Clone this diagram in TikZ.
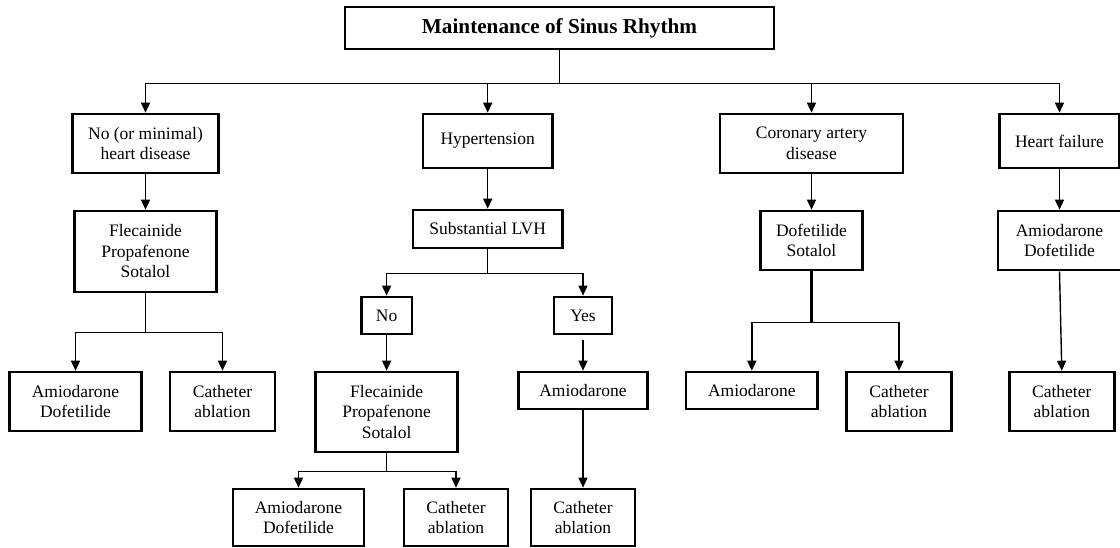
\documentclass[tikz,border=0pt]{standalone}
\usepackage{fontspec}
\setmainfont{Liberation Serif}
\usetikzlibrary{arrows.meta}
\begin{document}
\begin{tikzpicture}[x=1pt,y=-1pt,
  box/.style={draw, line width=2.6pt, align=center, inner sep=0pt, font=\fontsize{17.5}{20.5}\selectfont},
  wh/.style 2 args={minimum width=#1pt, minimum height=#2pt},
  conn/.style={line width=1.4pt},
  arr/.style={conn, -{Triangle[length=10pt,width=9pt]}},
  thickconn/.style={line width=2.8pt}
]
\useasboundingbox (0,0) rectangle (1120,548);
% title
\node[box, wh={429}{42}, font=\bfseries\fontsize{21.2}{24}\selectfont] (title) at (559.5,28) {Maintenance of Sinus Rhythm};
% column 1
\node[box, wh={146}{59}] (n1) at (145.5,143.5) {No (or minimal)\\heart disease};
\node[box, wh={142}{81}] (n2) at (145.5,251.5) {Flecainide\\Propafenone\\Sotalol};
\node[box, wh={132}{59}] (n3) at (75.5,401.5) {Amiodarone\\Dofetilide};
\node[box, wh={105}{59}] (n4) at (222.5,401.5) {Catheter\\ablation};
% column 2
\node[box, wh={129.5}{54}] (h1) at (487.7,141) {Hypertension};
\node[box, wh={149.5}{38}] (h2) at (487.7,229) {Substantial LVH};
\node[box, wh={50.4}{37}] (no) at (386.6,315.5) {No};
\node[box, wh={58}{37}] (yes) at (583,315.5) {Yes};
\node[box, wh={142}{80}] (flec2) at (386.6,412) {Flecainide\\Propafenone\\Sotalol};
\node[box, wh={131}{57}] (amio2) at (298.5,517.5) {Amiodarone\\Dofetilide};
\node[box, wh={104}{57}] (cath2) at (456,517.5) {Catheter\\ablation};
\node[box, wh={129.4}{37}] (amio3) at (583,390.5) {Amiodarone};
\node[box, wh={104}{57}] (cath3) at (583,517.5) {Catheter\\ablation};
% column 3
\node[box, wh={183}{59}] (c1) at (811.5,143.5) {Coronary artery\\disease};
\node[box, wh={102}{59}] (c2) at (811.5,240.5) {Dofetilide\\Sotalol};
\node[box, wh={131.5}{37}] (c3) at (751.8,390.5) {Amiodarone};
\node[box, wh={105}{59}] (c4) at (899,401.5) {Catheter\\ablation};
% column 4
\node[box, wh={120}{54}] (f1) at (1059.5,141) {Heart failure};
\node[box, wh={123}{59}] (f2) at (1059.5,240.5) {Amiodarone\\Dofetilide};
\node[box, wh={105}{59}] (f3) at (1061.8,401.5) {Catheter\\ablation};
% connectors
\draw[conn] (title.south) -- ++(0,33) coordinate (t);
\draw[arr] (t) -| (n1.north);
\draw[arr] (t) -| (h1.north);
\draw[arr] (t) -| (c1.north);
\draw[arr] (t) -| (f1.north);
\draw[arr] (n1.south) -- (n2.north);
\draw[conn] (n2.south) -- ++(0,39) coordinate (b1);
\draw[arr] (b1) -| (n3.north);
\draw[arr] (b1) -| (n4.north);
\draw[arr] (h1.south) -- (h2.north);
\draw[conn] (h2.south) -- ++(0,24) coordinate (b2);
\draw[arr] (b2) -| (no.north);
\draw[arr] (b2) -| (yes.north);
\draw[arr] (no.south) -- (flec2.north);
\draw[conn] (flec2.south) -- ++(0,18) coordinate (b3);
\draw[arr] (b3) -| (amio2.north);
\draw[arr] (b3) -| (cath2.north);
\draw[arr, shorten <=5pt] (yes.south) -- (amio3.north);
\draw[arr] (amio3.south) -- (cath3.north);
\draw[arr] (c1.south) -- (c2.north);
\draw[thickconn] (c2.south) -- ++(0,51) coordinate (b4);
\draw[arr] (b4) -| (c3.north);
\draw[arr] (b4) -| (c4.north);
\draw[arr] (f1.south) -- (f2.north);
\draw[arr] (f2.south) -- (f3.north);
\end{tikzpicture}
\end{document}
